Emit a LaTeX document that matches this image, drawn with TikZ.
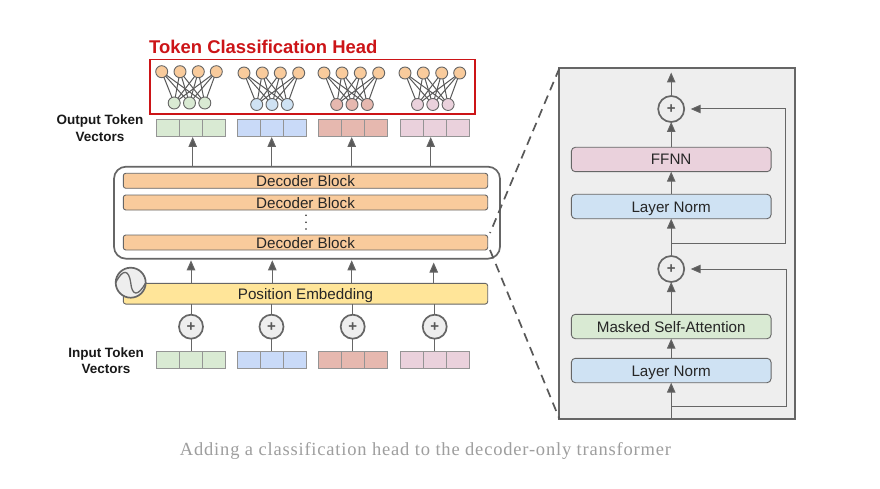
\documentclass[tikz,border=0pt]{standalone}
\usepackage{fontspec}
\setmainfont{Liberation Sans}
\newfontfamily\capfont[LetterSpace=4.36]{Liberation Serif}
\usetikzlibrary{arrows.meta}
\definecolor{cOrange}{HTML}{F9CB9C}
\definecolor{cGreen}{HTML}{D9EAD3}
\definecolor{cBlue}{HTML}{C9DAF8}
\definecolor{cSky}{HTML}{CFE2F3}
\definecolor{cRed}{HTML}{E6B8AF}
\definecolor{cPink}{HTML}{EAD1DC}
\definecolor{cYellow}{HTML}{FFE599}
\definecolor{cPanel}{HTML}{EEEEEE}
\definecolor{cLine}{HTML}{666666}
\definecolor{cDark}{HTML}{595959}
\definecolor{cHead}{HTML}{CC1417}
\tikzset{
  arr/.style={draw=cLine,line width=1pt,-{Triangle[length=10pt,width=8.5pt,fill=cDark]}},
  wire/.style={draw=cLine,line width=1pt},
  link/.style={draw=cDark,line width=1pt},
  neuron/.style={circle,draw=cLine,line width=.9pt,minimum size=12pt,inner sep=0pt,outer sep=0pt},
  cell/.style={rectangle,draw=cLine!70,line width=.9pt,minimum width=23pt,minimum height=16.8pt,inner sep=0pt,outer sep=0pt},
  block/.style={rectangle,rounded corners=2.5pt,draw=cLine,line width=.9pt,inner sep=0pt,outer sep=0pt,
    font=\fontsize{15.2}{18}\selectfont,text=black!85,text height=11pt,text depth=0pt},
  decblock/.style={block,fill=cOrange,minimum width=364.4pt,minimum height=15pt},
  panelblock/.style={block,minimum width=199.7pt,minimum height=24.4pt,rounded corners=4pt},
  plusnode/.style={circle,draw=cLine,line width=1.7pt,fill=cPanel,inner sep=0pt,outer sep=0pt,
    font=\fontsize{15}{15}\bfseries\selectfont,text=cDark},
  sidelabel/.style={align=center,font=\fontsize{13.5}{16.5}\bfseries\selectfont,text=black!90,inner sep=0pt},
  zoomline/.style={draw=cDark,line width=1.7pt},
}
\newcommand{\vecbar}[4]{% name, left x, centre y, colour
  \node[cell,fill=#4] (#1a) at (#2+11.5,#3) {};
  \node[cell,fill=#4] (#1b) at (#2+34.5,#3) {};
  \node[cell,fill=#4] (#1c) at (#2+57.5,#3) {};
}
\newcommand{\headgroup}[9]{% name, 4 upper x, upper y, colour, lower centre x, lower y
  \node[neuron,fill=cOrange] (#1u1) at (#2,#6) {};
  \node[neuron,fill=cOrange] (#1u2) at (#3,#6) {};
  \node[neuron,fill=cOrange] (#1u3) at (#4,#6) {};
  \node[neuron,fill=cOrange] (#1u4) at (#5,#6) {};
  \node[neuron,fill=#7] (#1l1) at (#8-15.3,#9) {};
  \node[neuron,fill=#7] (#1l2) at (#8,#9) {};
  \node[neuron,fill=#7] (#1l3) at (#8+15.3,#9) {};
  \foreach \upi in {1,2,3,4}{\foreach \loi in {1,2,3}{\draw[link] (#1u\upi) -- (#1l\loi);}}
}
\begin{document}
\begin{tikzpicture}[x=1pt,y=-1pt]
\useasboundingbox (0,0) rectangle (880,489);
\fill[white] (0,0) rectangle (880,489);

% Head
\node[anchor=base west,inner sep=0pt,font=\fontsize{18.45}{20}\bfseries\selectfont,text=cHead] (title) at (149,53.5) {Token Classification Head};
\node[rectangle,draw=cHead,line width=1.8pt,minimum width=325pt,minimum height=54.5pt,inner sep=0pt,outer sep=0pt] (head) at (312.5,86.7) {};
\headgroup{a}{161.7}{180}{198.3}{216.3}{71.7}{cGreen}{189.5}{103}
\headgroup{b}{244}{262.3}{280.3}{298.7}{73}{cSky}{272}{104.5}
\headgroup{c}{324}{342}{360.3}{378.7}{73}{cRed}{352}{104.5}
\headgroup{d}{405}{423.3}{441.7}{459.7}{73}{cPink}{432.8}{104.5}

% Output vectors
\vecbar{vo1}{156}{127.7}{cGreen}
\vecbar{vo2}{237.7}{127.7}{cBlue}
\vecbar{vo3}{318.3}{127.7}{cRed}
\vecbar{vo4}{400.5}{127.7}{cPink}
\node[sidelabel] (outlabel) at (100,128) {Output Token\\Vectors};

% Decoder stack
\node[rectangle,rounded corners=12pt,draw=cLine,line width=1.7pt,minimum width=386pt,minimum height=92pt,inner sep=0pt,outer sep=0pt] (stack) at (307,212.7) {};
\node[decblock] (d1) at (305.5,180.8) {Decoder Block};
\node[decblock] (d2) at (305.5,202.5) {Decoder Block};
\node[decblock] (d3) at (305.5,242.5) {Decoder Block};
\node[circle,fill=black!85,minimum size=1.8pt,inner sep=0pt] (dot1) at (306,215.3) {};
\node[circle,fill=black!85,minimum size=1.8pt,inner sep=0pt] (dot2) at (306,222.3) {};
\node[circle,fill=black!85,minimum size=1.8pt,inner sep=0pt] (dot3) at (306,229) {};

% Arrows stack -> output vectors
\coordinate (ao1) at (192.7,137);
\coordinate (ao2) at (271.7,137);
\coordinate (ao3) at (351.7,137);
\coordinate (ao4) at (430.7,137);
\foreach \i in {1,2,3,4}{\draw[arr] (ao\i |- stack.north) -- (ao\i);}

% Position embedding
\node[block,fill=cYellow,minimum width=364.4pt,minimum height=20.7pt] (pos) at (305.5,293.7) {Position Embedding};
\node[circle,draw=cLine,line width=1.7pt,fill=cPanel,minimum size=30pt,inner sep=0pt,outer sep=0pt] (sine) at (130.7,282.7) {};
\draw[cLine,line width=1.3pt] (sine.west) .. controls (123,268) and (129,270) .. (sine.center) .. controls (132,296) and (138,297) .. (sine.east);

% Arrows embedding -> stack
\coordinate (ap1) at (191,260.3);
\coordinate (ap2) at (272.3,260.3);
\coordinate (ap3) at (351.7,260.3);
\coordinate (ap4) at (433.7,262.5);
\foreach \i in {1,2,3,4}{\draw[arr] (ap\i |- pos.north) -- (ap\i);}

% Plus circles and input vectors
\node[plusnode,minimum size=24pt] (p1) at (191,326.7) {+};
\node[plusnode,minimum size=24pt] (p2) at (271.5,326.7) {+};
\node[plusnode,minimum size=24pt] (p3) at (352.7,326.7) {+};
\node[plusnode,minimum size=24pt] (p4) at (434.7,326.7) {+};
\vecbar{vi1}{156.3}{359.8}{cGreen}
\vecbar{vi2}{237.7}{359.8}{cBlue}
\vecbar{vi3}{318.3}{359.8}{cRed}
\vecbar{vi4}{400.7}{359.8}{cPink}
\foreach \i in {1,2,3,4}{
  \draw[wire] (p\i |- pos.south) -- (p\i.north);
  \draw[wire] (p\i.south) -- (p\i |- vi\i b.north);
}
\node[sidelabel] (inlabel) at (106,360.5) {Input Token\\Vectors};

% Detail panel
\node[rectangle,draw=cLine,line width=2.2pt,fill=cPanel,minimum width=235.7pt,minimum height=350.4pt,inner sep=0pt,outer sep=0pt] (panel) at (677.2,243.5) {};
\node[panelblock,fill=cPink] (ffnn) at (671.2,159.5) {FFNN};
\node[panelblock,fill=cSky] (ln1) at (671.2,206.5) {Layer Norm};
\node[panelblock,fill=cGreen] (msa) at (671.2,326.5) {Masked Self-Attention};
\node[panelblock,fill=cSky] (ln2) at (671.2,370.5) {Layer Norm};
\node[plusnode,minimum size=26pt] (q1) at (671.2,109) {+};
\node[plusnode,minimum size=26pt] (q2) at (671.2,269) {+};
\coordinate (qout) at (671.2,72.5);
\coordinate (j1) at (671.2,243.3);
\coordinate (j2) at (671.2,406.7);
\coordinate (r1) at (785.3,243.3);
\coordinate (r2) at (786.3,406.7);
\draw[arr] (q1.north) -- (qout);
\draw[arr] (ffnn.north) -- (q1.south);
\draw[arr] (ln1.north) -- (ffnn.south);
\draw[arr] (q2.north) -- (ln1.south);
\draw[arr] (msa.north) -- (q2.south);
\draw[arr] (ln2.north) -- (msa.south);
\draw[arr] (panel.south -| ln2.south) -- (ln2.south);
\draw[arr,shorten >=6.5pt] (j1) -- (r1) -- (r1 |- q1.east) -- (q1.east);
\draw[arr,shorten >=6.5pt] (j2) -- (r2) -- (r2 |- q2.east) -- (q2.east);

% Zoom lines
\coordinate (z1) at (490,233);
\coordinate (z2) at (490,250);
\draw[zoomline,dash pattern=on 9pt off 5.8pt] (panel.north west) -- (z1);
\draw[zoomline,dash pattern=on 9pt off 6pt] (z2) -- (panel.south west);

% Caption
\node[inner sep=0pt,text=black!38,font=\capfont\fontsize{18.5}{22}\selectfont] (caption) at (425.5,450.5) {Adding a classification head to the decoder-only transformer};
\end{tikzpicture}
\end{document}
